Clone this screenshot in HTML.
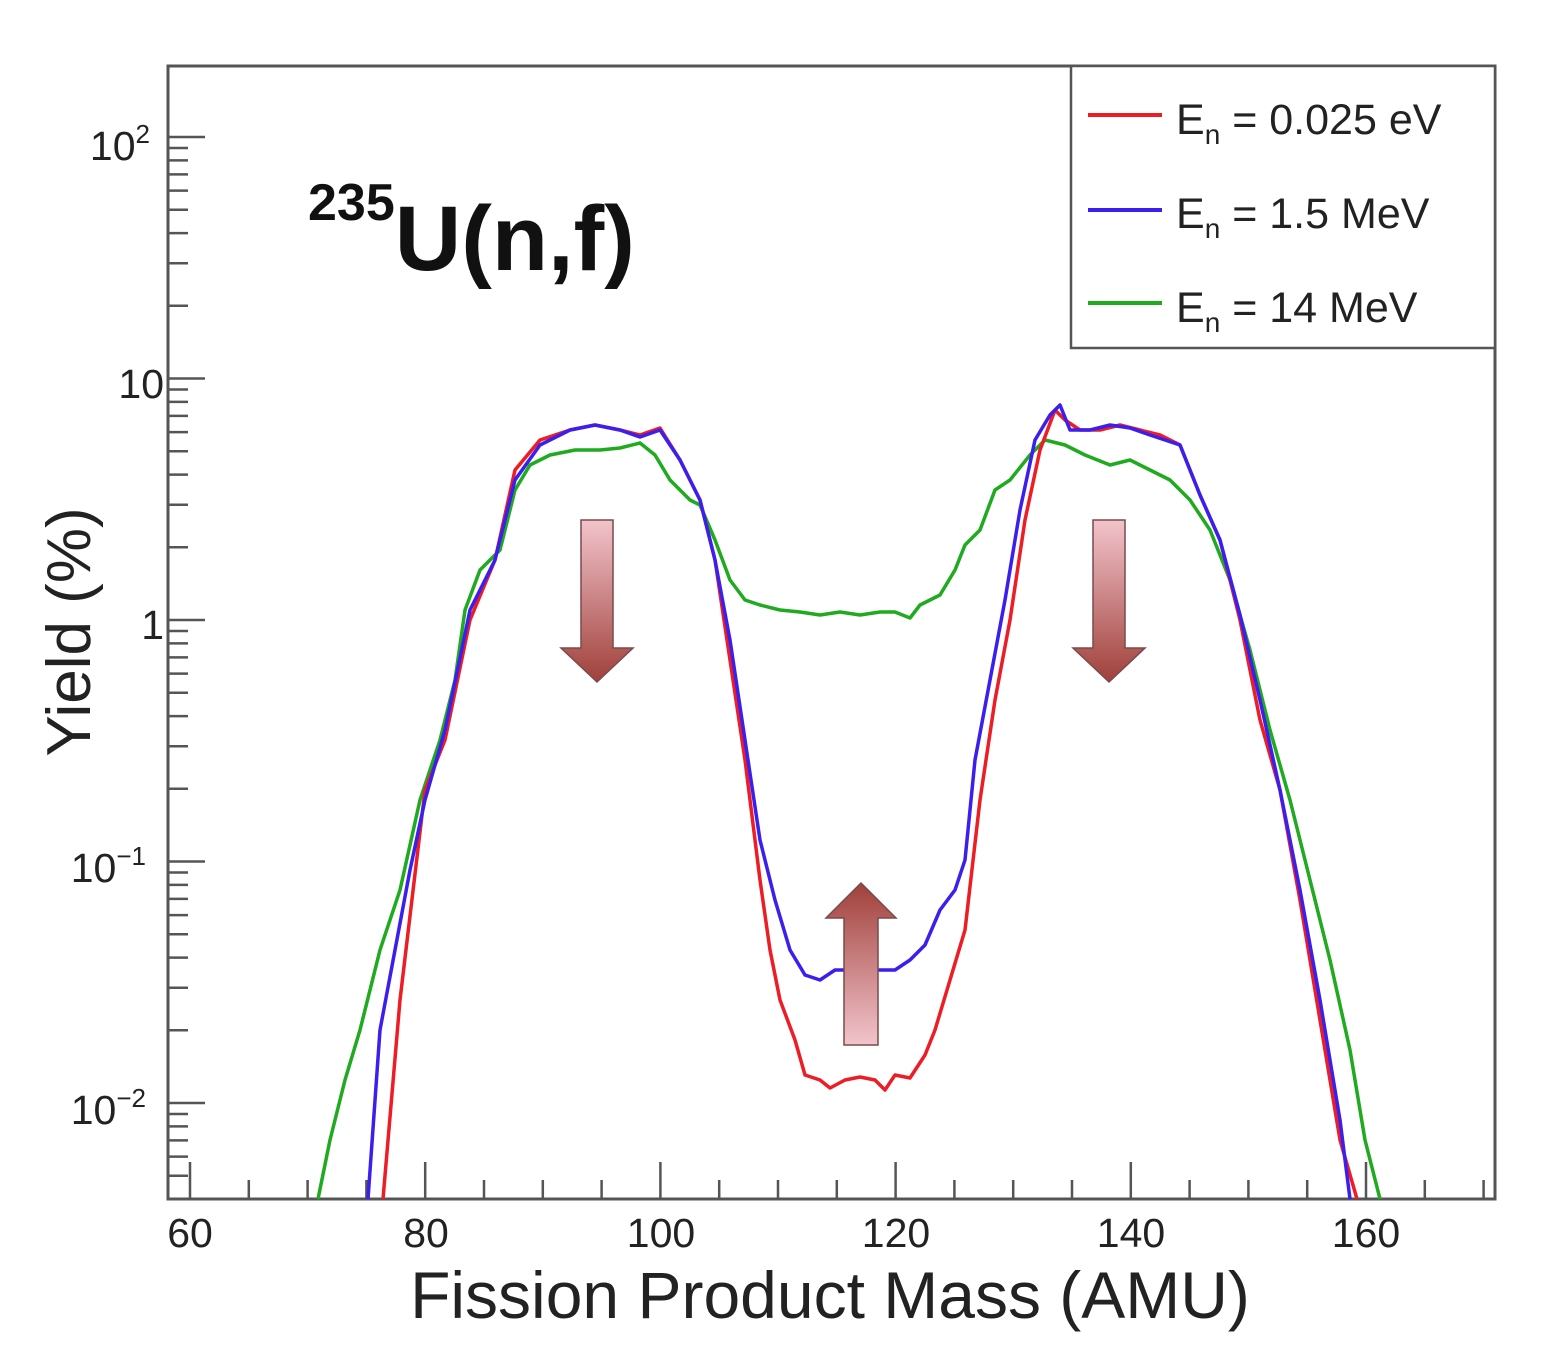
<!DOCTYPE html>
<html><head><meta charset="utf-8"><style>
html,body{margin:0;padding:0;background:#fff;}
svg{display:block;font-family:"Liberation Sans",sans-serif;}
</style></head><body>
<svg id="s" width="1542" height="1358" viewBox="0 0 1542 1358" xmlns="http://www.w3.org/2000/svg">
<defs>
<linearGradient id="gd" x1="0" y1="0" x2="0" y2="1"><stop offset="0" stop-color="#f2c4cc"/><stop offset="1" stop-color="#a0403a"/></linearGradient>
<linearGradient id="gu" x1="0" y1="0" x2="0" y2="1"><stop offset="0" stop-color="#a0403a"/><stop offset="1" stop-color="#f2c4cc"/></linearGradient>
</defs>
<rect x="168" y="66" width="1327" height="1133" fill="none" stroke="#555" stroke-width="3"/>
<g id="ticks" stroke="#555" stroke-width="2.5"></g>
<g font-size="41" fill="#222" text-anchor="end">
<text x="150" y="160">10<tspan font-size="26" dy="-17">2</tspan></text>
<text x="164" y="398">10</text>
<text x="164" y="639">1</text>
<text x="146" y="882">10<tspan font-size="26" dy="-17">−1</tspan></text>
<text x="146" y="1124">10<tspan font-size="26" dy="-17">−2</tspan></text>
</g>
<g font-size="41" fill="#222" text-anchor="middle">
<text x="190" y="1247">60</text><text x="426" y="1247">80</text><text x="661" y="1247">100</text>
<text x="896" y="1247">120</text><text x="1131" y="1247">140</text><text x="1366" y="1247">160</text>
</g>
<text x="830" y="1318" font-size="66" text-anchor="middle" fill="#222">Fission Product Mass (AMU)</text>
<text transform="translate(90,632) rotate(-90)" font-size="62" text-anchor="middle" fill="#222">Yield (%)</text>
<text x="308" y="270" font-weight="bold" fill="#111"><tspan font-size="52" dy="-50">235</tspan><tspan font-size="92" dy="50">U(n,f)</tspan></text>
<g fill="none" stroke-width="3.5" stroke-linejoin="round">
<polyline stroke="#1faa1f" points="318,1199 330,1140 345,1080 360,1030 380,950 400,890 420,800 440,740 455,680 465,610 480,570 500,550 515,490 530,465 550,455 575,450 600,450 620,448 640,443 655,455 670,480 690,500 700,505 715,540 730,580 745,600 760,605 780,610 800,612 820,615 840,612 860,615 880,612 895,612 910,618 920,605 940,595 955,570 965,545 980,530 995,490 1010,480 1030,455 1045,440 1065,445 1085,455 1110,465 1130,460 1150,470 1170,480 1190,500 1210,530 1230,580 1250,650 1270,730 1290,800 1310,880 1330,960 1350,1050 1365,1140 1380,1199"/>
<polyline stroke="#ee1c24" points="383,1199 400,1000 425,790 445,740 470,620 495,560 515,470 540,440 570,430 595,425 620,430 640,435 660,428 680,460 700,500 715,560 730,660 745,760 760,880 770,950 780,1000 795,1040 805,1075 820,1080 830,1088 845,1080 860,1077 875,1080 885,1090 895,1075 910,1078 925,1055 935,1030 950,980 965,930 980,800 995,700 1010,620 1025,520 1040,450 1055,410 1065,420 1080,430 1100,430 1120,425 1140,430 1160,435 1180,445 1200,495 1220,540 1240,620 1260,720 1280,790 1300,900 1320,1020 1340,1140 1357,1199"/>
<polyline stroke="#3a1fee" points="368,1199 380,1030 395,950 410,870 425,800 445,730 470,610 495,560 515,480 540,445 570,430 595,425 620,430 640,437 660,430 680,460 700,500 715,560 730,640 745,740 760,840 775,900 790,950 805,975 820,980 835,970 850,970 865,970 880,970 895,970 910,960 925,945 940,910 955,890 965,860 975,760 990,680 1005,600 1020,510 1035,440 1050,415 1060,405 1070,430 1090,430 1110,425 1130,428 1150,435 1180,445 1200,495 1220,540 1240,615 1260,700 1280,790 1300,890 1320,1000 1340,1120 1350,1199"/>
</g>
<g stroke="#7a4a4a" stroke-width="1.5">
<path d="M581,520 H613 V648 H633 L597,682 L561,648 H581 Z" fill="url(#gd)"/>
<path d="M1093,520 H1125 V648 H1145 L1109,682 L1073,648 H1093 Z" fill="url(#gd)"/>
<path d="M844,1045 H878 V918 H896 L861,883 L826,918 H844 Z" fill="url(#gu)"/>
</g>
<rect x="1071" y="66" width="424" height="282" fill="#fff" stroke="#555" stroke-width="2.5"/>
<g stroke-width="4">
<line x1="1088" y1="115" x2="1162" y2="115" stroke="#ee1c24"/>
<line x1="1088" y1="210" x2="1162" y2="210" stroke="#3a1fee"/>
<line x1="1088" y1="303" x2="1162" y2="303" stroke="#1faa1f"/>
</g>
<g font-size="43" fill="#222">
<text x="1176" y="134">E<tspan font-size="28" dy="10">n</tspan><tspan dy="-10"> = 0.025 eV</tspan></text>
<text x="1176" y="228">E<tspan font-size="28" dy="10">n</tspan><tspan dy="-10"> = 1.5 MeV</tspan></text>
<text x="1176" y="322">E<tspan font-size="28" dy="10">n</tspan><tspan dy="-10"> = 14 MeV</tspan></text>
</g>
</svg>
<script>
var g=document.getElementById('ticks'),h='';
function L(a,b,c,d){h+='<line x1="'+a+'" y1="'+b+'" x2="'+c+'" y2="'+d+'"/>';}
var y0=1103,dec=241.5;
for(var e=-3;e<=2;e++){for(var m=1;m<10;m++){var y=y0-(e+2+Math.log10(m))*dec;if(y<68||y>1197)continue;L(168,y,m==1?205:188,y);}}
for(var v=60;v<=170;v+=5){var x=190+(v-60)*11.76;L(x,1199,x,v%20==0?1162:1180);}
g.innerHTML=h;
</script>
</body></html>
